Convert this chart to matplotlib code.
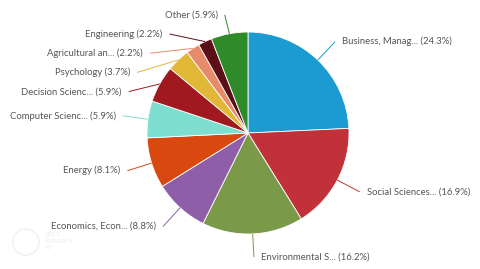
import numpy as np
import matplotlib
matplotlib.use('Agg')
import matplotlib.pyplot as plt

# data
labels = ['Business, Manag...', 'Social Sciences...', 'Environmental S...',
          'Economics, Econ...', 'Energy', 'Computer Scienc...',
          'Decision Scienc...', 'Psychology', 'Agricultural an...',
          'Engineering', 'Other']
values = [24.3, 16.9, 16.2, 8.8, 8.1, 5.9, 5.9, 3.7, 2.2, 2.2, 5.9]
colors = ['#1b9bd1', '#c0313a', '#7a9a4a', '#8e5ea8', '#d8480f', '#7ddfd0',
          '#a0191f', '#e1b737', '#e68c6c', '#5b0f17', '#2f8a2a']

plt.rcParams['font.family'] = ['Lato', 'DejaVu Sans']

fig = plt.figure(figsize=(4.8, 2.69), dpi=100)
ax = fig.add_axes([0, 0, 1, 1])

wedges, _ = ax.pie(values, colors=colors, startangle=90, counterclock=False,
                   radius=1.0, wedgeprops=dict(edgecolor='white', linewidth=0.6))

# centre at pixel (248,133), radius 101 px
ax.set_aspect('auto')
ax.set_xlim(-248 / 101, (480 - 248) / 101)
ax.set_ylim((133 - 269) / 101, 133 / 101)
ax.axis('off')

# label layout
R = 1.25
total = sum(values)
cum = np.cumsum([0] + values[:-1])
mids = [(c + v / 2) / total * 2 * np.pi for c, v in zip(cum, values)]
pos = []
for m in mids:
    pos.append([np.sin(m) * R, np.cos(m) * R])
natural = [p[:] for p in pos]
on_circle = [True] * len(values)

# push left side labels down so they don't overlap
left = [i for i in range(len(values)) if np.sin(mids[i]) < 0]
left.sort(key=lambda i: -pos[i][1])
prev = None
for i in left:
    y = min(pos[i][1], 1.17)
    if prev is not None and y > prev - 0.19:
        y = prev - 0.19
    elif y < pos[i][1]:
        on_circle[i] = False  # only clipped at the top
    pos[i][1] = y
    prev = y

for i, (lab, v) in enumerate(zip(labels, values)):
    m = mids[i]
    ex, ey = np.sin(m), np.cos(m)
    y = pos[i][1]
    side = 1 if ex >= 0 else -1
    if on_circle[i]:
        x = side * np.sqrt(max(R * R - y * y, 0.0))
    else:
        x = natural[i][0]
    y = max(y, -1.23)
    ax.plot([ex, x], [ey, y], color=colors[i], lw=0.7,
            solid_capstyle='butt')
    ax.text(x + side * 0.07, y, f'{lab} ({v}%)', fontsize=6.8, color='#555555',
            ha='left' if side > 0 else 'right', va='center')

# faint watermark
circ = plt.Circle((-2.2, -1.08), 0.13, fill=False, color='#f2f2f2', lw=1.2)
ax.add_patch(circ)
ax.text(-2.02, -1.06, "Let's\nEnhance\n.io", fontsize=5.5, color='#f2f2f2',
        ha='left', va='center', fontweight='bold', linespacing=0.9)

fig.savefig('out.png', dpi=100)
